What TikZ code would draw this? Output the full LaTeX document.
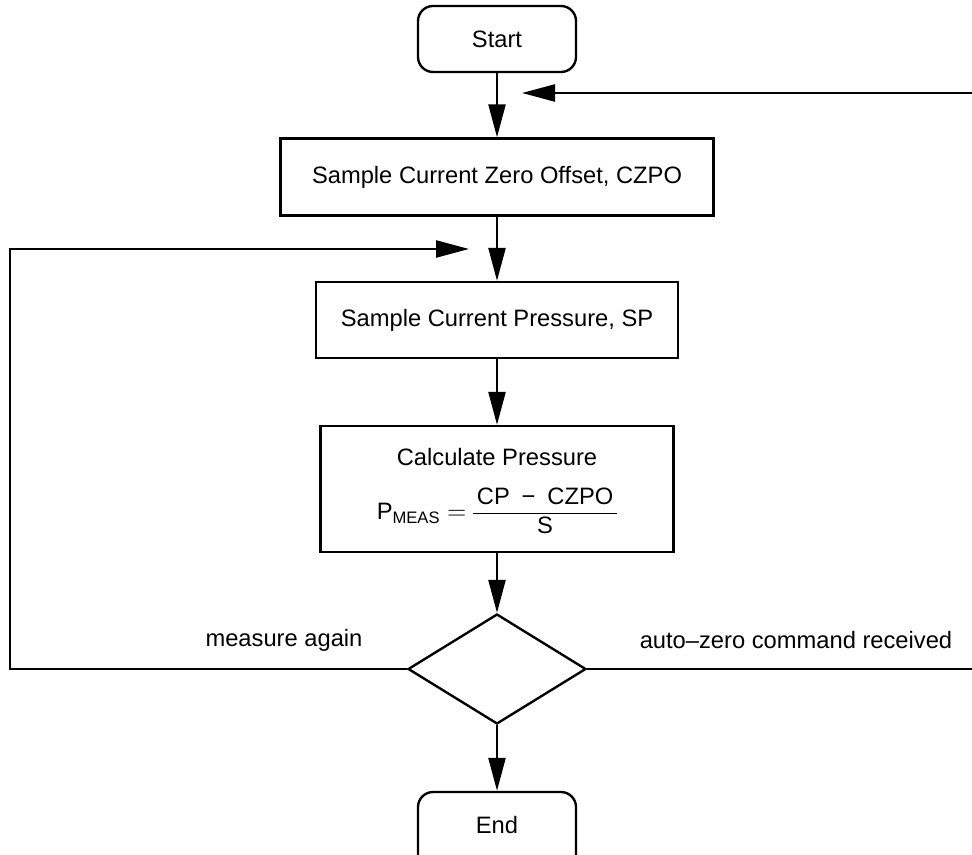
\documentclass[tikz,border=0pt]{standalone}
\usepackage{amsmath}
\usepackage{fontspec}
\setmainfont{Liberation Sans}
\usetikzlibrary{shapes.geometric,arrows.meta}

\begin{document}
\begin{tikzpicture}[x=0.02cm, y=-0.02cm, line width=1.35pt,
    font=\fontsize{13.5}{16}\selectfont,
    terminal/.style={draw, rounded corners=0.3cm, minimum width=3.16cm, minimum height=1.32cm},
    process/.style={draw, align=center},
    decision/.style={draw, diamond, inner sep=0pt, minimum width=3.56cm, minimum height=2.2cm},
    flow/.style={-{Triangle[length=0.66cm, width=0.34cm]}}]
                \useasboundingbox (0,0) rectangle (972,854);
                \node[terminal] (start) at (497,39) {Start};
                \node[process, minimum width=8.66cm, minimum height=1.54cm] (zero) at (497,177) {Sample Current Zero Offset, CZPO};
                \node[process, minimum width=7.24cm, minimum height=1.52cm] (sample) at (497,320) {Sample Current Pressure, SP};
                \node[process, minimum width=7.06cm, minimum height=2.52cm, text depth=0.2cm] (calc) at (497,489) {Calculate Pressure\\[10pt]
                    P$_{\text{MEAS}}$ $=$ \begin{tabular}{@{\,}c@{\,}}CP\enspace−\enspace CZPO\\\hline S\end{tabular}};
                \node[decision] (dec) at (497,669) {};
                \node[terminal, minimum height=1.6cm, text depth=0.28cm] (end) at (497,832) {End};
                \node (again) at (284,640) {measure again};
                \node (autozero) at (796,640) {auto–zero command received};

                \coordinate (lbend) at (10,669);
                \coordinate (ltop) at (10,249);
                \coordinate (lin) at (469,249);
                \coordinate (rbend) at (990,669);
                \coordinate (rtop) at (990,93);
                \coordinate (rin) at (522,93);

                \draw[flow] (start) -- (zero);
                \draw[flow] (zero) -- (sample);
                \draw[flow] (sample) -- (calc);
                \draw[flow] (calc) -- (dec);
                \draw[flow] (dec) -- (end);
                \draw[flow] (dec.west) -- (lbend) -- (ltop) -- (lin);
                \draw[flow] (dec.east) -- (rbend) -- (rtop) -- (rin);
            \end{tikzpicture}
\end{document}
